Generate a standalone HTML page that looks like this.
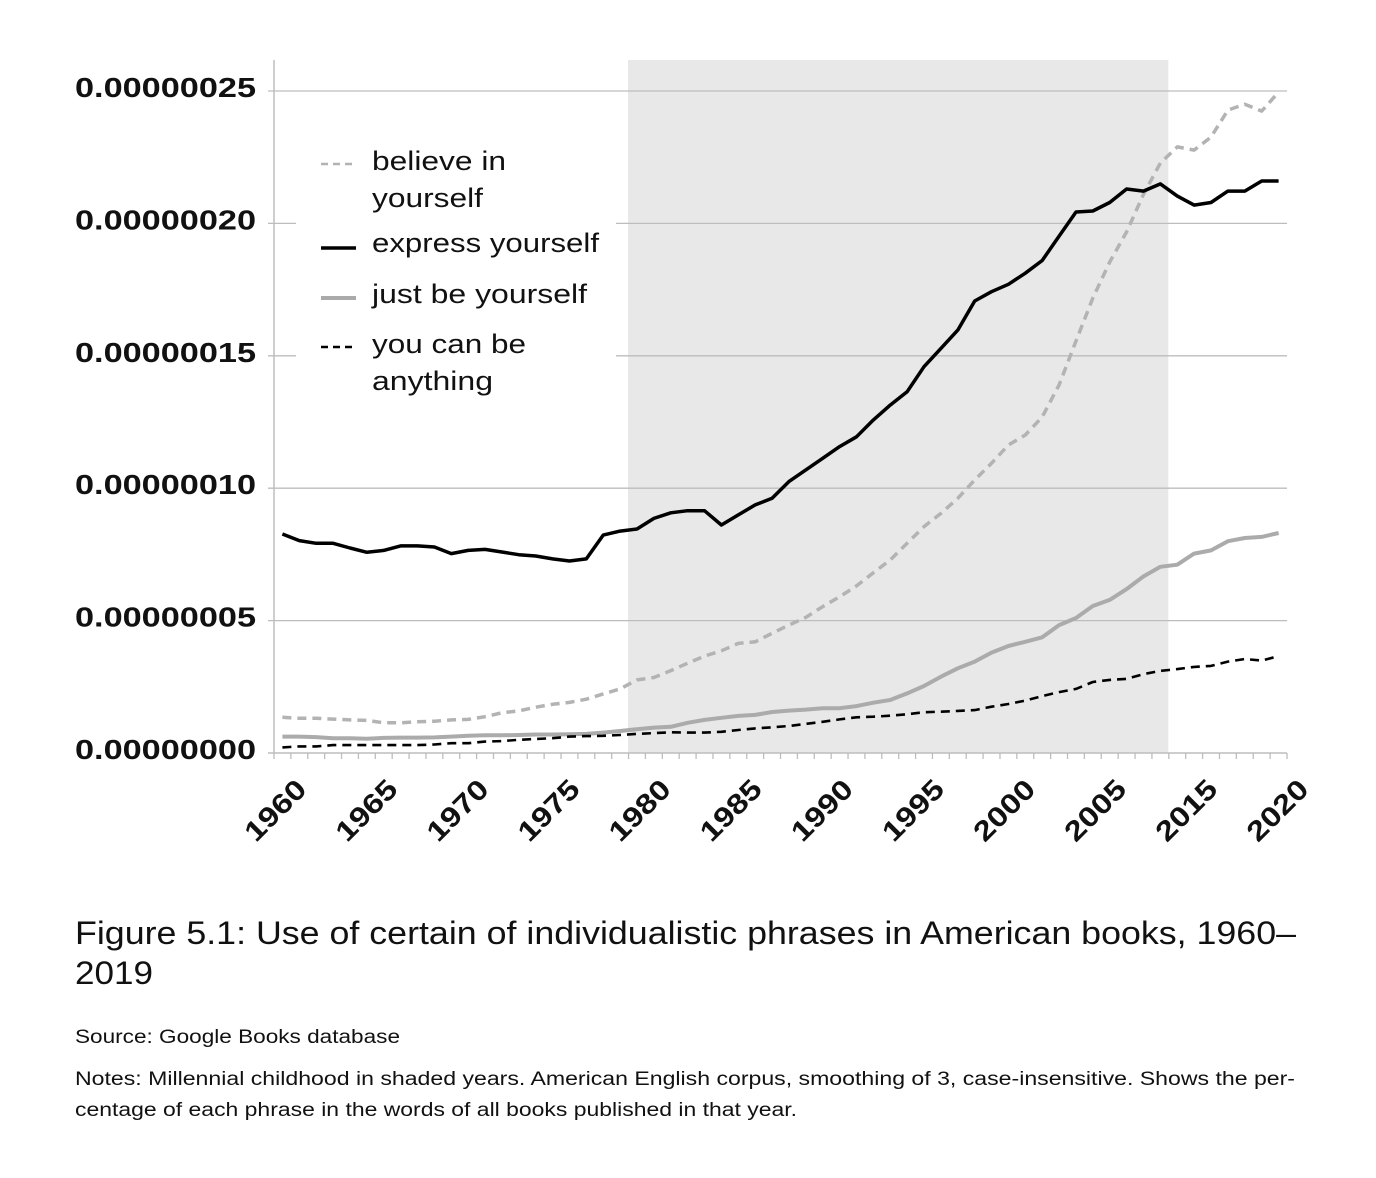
<!DOCTYPE html>
<html><head><meta charset="utf-8">
<style>
html,body{margin:0;padding:0;background:#fff;}
body{width:1376px;height:1178px;position:relative;overflow:hidden;font-family:"Liberation Sans",sans-serif;}
svg{position:absolute;left:0;top:0;}
</style></head>
<body>
<svg id="chart" width="1376" height="1178" viewBox="0 0 1376 1178" xmlns="http://www.w3.org/2000/svg">
  <g id="plot"></g>
  <g id="legend">
    <rect x="296" y="132" width="320" height="272" fill="#fff"/>
    <g>
      <line x1="321" y1="164" x2="356" y2="164" stroke="#b3b3b3" stroke-width="2.5" stroke-dasharray="7,5"/>
      <text x="372" y="170" font-size="27" fill="#111" textLength="134" lengthAdjust="spacingAndGlyphs">believe in</text>
      <text x="372" y="207" font-size="27" fill="#111" textLength="111" lengthAdjust="spacingAndGlyphs">yourself</text>
    </g>
    <g>
      <line x1="321" y1="248" x2="356" y2="248" stroke="#000" stroke-width="3.5"/>
      <text x="372" y="252" font-size="27" fill="#111" textLength="227" lengthAdjust="spacingAndGlyphs">express yourself</text>
    </g>
    <g>
      <line x1="321" y1="298" x2="356" y2="298" stroke="#aaa" stroke-width="4"/>
      <text x="372" y="303" font-size="27" fill="#111" textLength="215" lengthAdjust="spacingAndGlyphs">just be yourself</text>
    </g>
    <g>
      <line x1="321" y1="347" x2="356" y2="347" stroke="#000" stroke-width="2.5" stroke-dasharray="7,5"/>
      <text x="372" y="353" font-size="27" fill="#111" textLength="154" lengthAdjust="spacingAndGlyphs">you can be</text>
      <text x="372" y="390" font-size="27" fill="#111" textLength="121" lengthAdjust="spacingAndGlyphs">anything</text>
    </g>
  </g>
  <g fill="#111">
    <text x="75" y="944" font-size="32" textLength="1221" lengthAdjust="spacingAndGlyphs">Figure 5.1: Use of certain of individualistic phrases in American books, 1960–</text>
    <text x="75" y="984" font-size="32" textLength="78" lengthAdjust="spacingAndGlyphs">2019</text>
    <text x="75" y="1043" font-size="19" textLength="325" lengthAdjust="spacingAndGlyphs">Source: Google Books database</text>
    <text x="75" y="1085" font-size="19" textLength="1220" lengthAdjust="spacingAndGlyphs">Notes: Millennial childhood in shaded years. American English corpus, smoothing of 3, case-insensitive. Shows the per-</text>
    <text x="75" y="1116" font-size="19" textLength="722" lengthAdjust="spacingAndGlyphs">centage of each phrase in the words of all books published in that year.</text>
  </g>
</svg>
<script>
const years = [];
for (let y = 1960; y <= 2019; y++) years.push(y);
const xTickLabels = ["1960","1965","1970","1975","1980","1985","1990","1995","2000","2005","2015","2020"];
const yTickValues = [0, 50, 100, 150, 200, 250];
const yTickLabels = ["0.00000000","0.00000005","0.00000010","0.00000015","0.00000020","0.00000025"];
const shadeStartIndex = 20.97;
const shadeEndIndex = 52.97;
// values in units of 1e-9
const expressYourself = [82.7,80.2,79.2,79.2,77.4,75.8,76.5,78.2,78.2,77.8,75.3,76.5,76.9,75.9,74.9,74.4,73.3,72.5,73.3,82.3,83.8,84.6,88.6,
90.7,91.5,91.5,86.1,89.9,93.7,96.2,102.5,106.9,111.3,115.7,119.4,125.8,131.4,136.4,145.9,152.8,159.7,170.7,174.2,177,181.2,
186,195.2,204.3,204.7,207.9,213,212.2,214.9,210.3,206.9,207.9,212.2,212.2,216,216];
const believeInYourself = [13.5,13.1,13.1,12.8,12.5,12.3,11.4,11.4,11.8,12,12.5,12.7,13.7,15.2,15.9,17.3,18.4,19.1,20.3,22.3,24.2,27.6,28.5,
31.1,33.9,36.6,38.6,41.4,42,45.2,48.3,51.2,55.3,59,63.1,68.1,72.9,79.2,85.5,90.5,96.2,103.1,109.4,116.3,120.1,
126.9,139,155.6,171.8,185.4,196.8,211,222.8,228.9,227.7,232.6,242.8,245,242.4,249.6];
const justBeYourself = [6.2,6.2,6.0,5.6,5.6,5.4,5.7,5.8,5.8,5.9,6.2,6.5,6.7,6.7,6.8,7,7,7.1,7.2,7.7,8.3,9,9.6,
9.9,11.4,12.5,13.3,14,14.4,15.5,16,16.4,16.9,16.9,17.7,19,20,22.5,25.3,28.8,32,34.5,37.9,40.4,42,
43.7,48.3,51,55.5,57.8,61.9,66.7,70.3,71.1,75.3,76.5,80,81.2,81.6,83.1];
const youCanBeAnything = [2.1,2.5,2.5,3,3,3,3,3,3,3.2,3.7,3.7,4.3,4.5,5,5.3,5.6,6.2,6.4,6.5,6.8,7.2,7.5,
7.8,7.7,7.7,8,8.7,9.3,9.7,10.2,11,11.8,12.7,13.5,13.7,14.1,14.6,15.4,15.6,15.9,16.2,17.5,18.5,19.8,
21.5,23,24.2,26.8,27.6,28,29.8,31,31.7,32.5,32.9,34.5,35.5,34.9,36.6];

const NS = "http://www.w3.org/2000/svg";
const X0 = 274, X1 = 1287, Y0 = 753, Y250 = 91;
const band = (X1 - X0) / years.length;
function xScale(i){ return X0 + band * (i + 0.5); }
function xEdge(i){ return X0 + band * i; }
function yScale(v){ return Y0 - (v / 250) * (Y0 - Y250); }
function mk(tag, attrs){ const e = document.createElementNS(NS, tag); for (const k in attrs) e.setAttribute(k, attrs[k]); return e; }

const plot = document.getElementById('plot');
const legend = document.getElementById('legend');

const shade = mk('rect', {x: xEdge(shadeStartIndex), y: 60, width: xEdge(shadeEndIndex) - xEdge(shadeStartIndex), height: Y0 - 60, fill: '#e8e8e8'});


plot.appendChild(shade);

yTickValues.forEach((v, k) => {
  const y = yScale(v);
  if (v > 0) {
    const g = mk('line', {x1: 268, y1: y, x2: X1, y2: y, stroke: '#bdbdbd', 'stroke-width': 1.3});
    
    
    plot.appendChild(g);
  }
  const t = mk('text', {x: 75, y: y + 6, 'font-size': 28, 'font-weight': 'bold', fill: '#111', textLength: 181, lengthAdjust: 'spacingAndGlyphs'});
  t.textContent = yTickLabels[k];
  
  
  plot.appendChild(t);
});

const yAxis = mk('line', {x1: X0, y1: 60, x2: X0, y2: Y0, stroke: '#bdbdbd', 'stroke-width': 1.5});


plot.appendChild(yAxis);
const xAxis = mk('line', {x1: X0 - 6, y1: Y0, x2: X1, y2: Y0, stroke: '#bdbdbd', 'stroke-width': 1.5});


plot.appendChild(xAxis);
for (let i = 0; i <= years.length; i++) {
  const tk = mk('line', {x1: xEdge(i), y1: Y0, x2: xEdge(i), y2: Y0 + 6, stroke: '#bdbdbd', 'stroke-width': 1.3});
  
  
  plot.appendChild(tk);
}
xTickLabels.forEach((lab, k) => {
  const cx = 275 + k * 91.1, cy = 810;
  const t = mk('text', {x: cx, y: cy + 10, 'font-size': 28, 'font-weight': 'bold', fill: '#111', 'text-anchor': 'middle', textLength: 74, lengthAdjust: 'spacingAndGlyphs', transform: 'rotate(-45 ' + cx + ' ' + cy + ')'});
  t.textContent = lab;
  
  
  plot.appendChild(t);
});

function drawSeries(vals, name, stroke, width, dash){
  const pts = vals.map((v, i) => xScale(i).toFixed(1) + ',' + yScale(v).toFixed(1)).join(' ');
  const p = mk('polyline', {points: pts, fill: 'none', stroke: stroke, 'stroke-width': width, 'stroke-linejoin': 'round'});
  if (dash) p.setAttribute('stroke-dasharray', dash);
  
  
  plot.appendChild(p);
}
drawSeries(justBeYourself, 'just-be-yourself-line', '#ababab', 4, null);
drawSeries(youCanBeAnything, 'you-can-be-anything-line', '#000', 2.6, '9,6');
drawSeries(believeInYourself, 'believe-in-yourself-line', '#b3b3b3', 3.5, '9,6');
drawSeries(expressYourself, 'express-yourself-line', '#000', 3.5, null);

plot.parentNode.appendChild(legend);
</script>
</body></html>
